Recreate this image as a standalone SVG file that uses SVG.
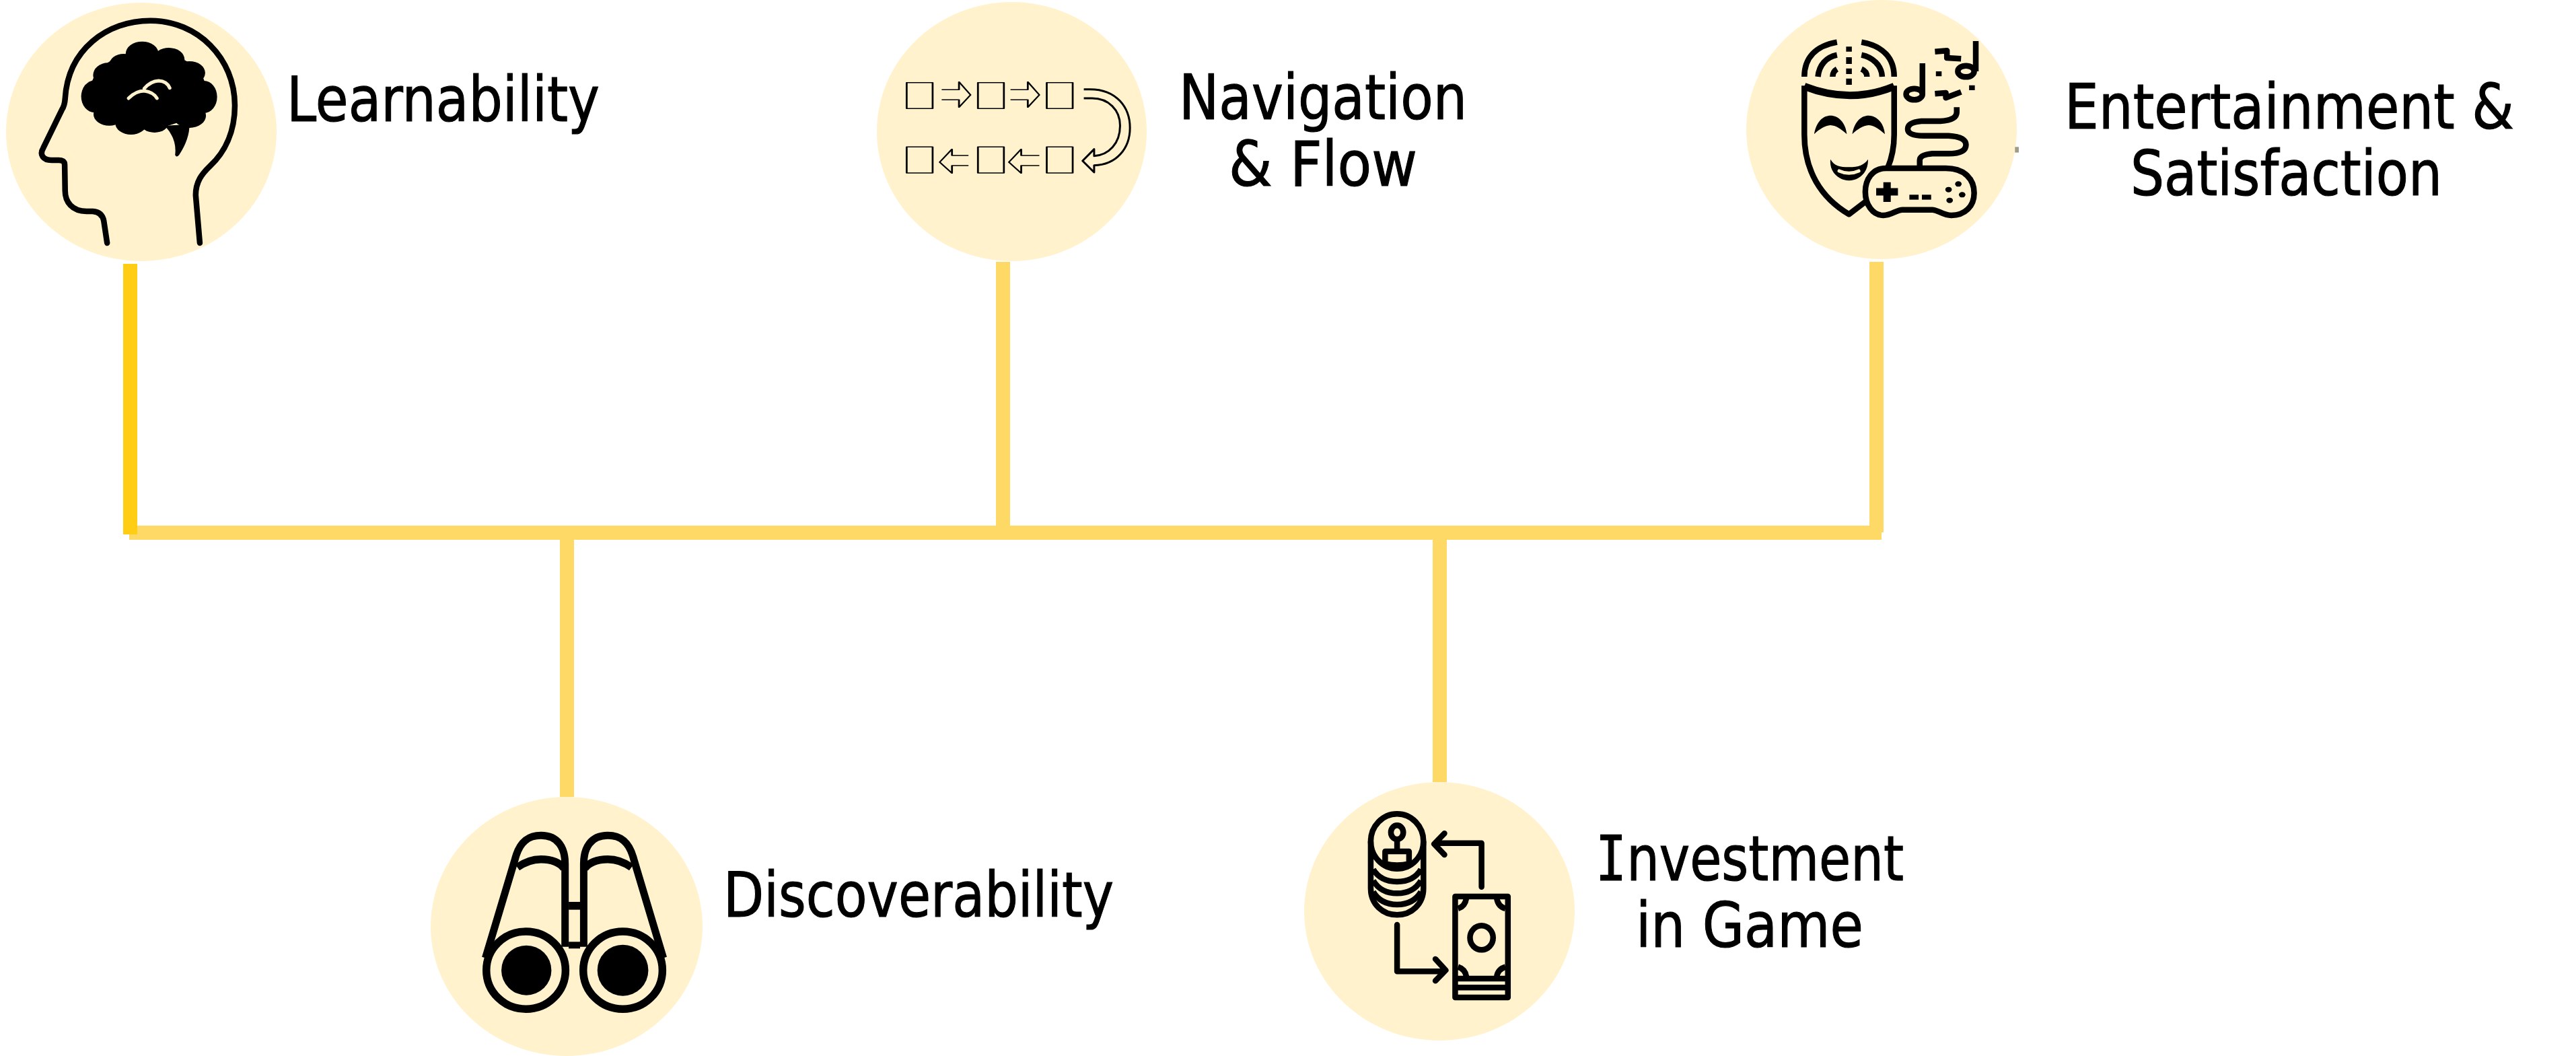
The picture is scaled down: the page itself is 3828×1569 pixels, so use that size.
<svg xmlns="http://www.w3.org/2000/svg" width="3828" height="1569" viewBox="0 0 3828 1569">
<style>
.bg{fill:#FFF2CC}
.lbl{font-family:"DejaVu Sans",Verdana,sans-serif;font-size:92px;fill:#000;stroke:#000;stroke-width:1.2}
.serif-i{font-family:"DejaVu Sans Mono",monospace}
.ln{fill:none;stroke:#000;stroke-width:8.5;stroke-linejoin:round;vector-effect:non-scaling-stroke}
.rd{stroke-linecap:round}
.thin{stroke-width:4.5}
.hair{stroke-width:3}
.w9{stroke-width:11}
.w11{stroke-width:11.5}
.ck{fill:#000}
.cr{fill:none;stroke:#FFF2CC;stroke-width:5;stroke-linecap:round;vector-effect:non-scaling-stroke}
.bar{fill:#FFD966}
</style>
<g id="connectors">
<rect class="bar" x="192" y="781" width="2604" height="21"/>
<rect class="bar" x="1480" y="389" width="21" height="392"/>
<rect class="bar" x="2778" y="389" width="21" height="402"/>
<rect class="bar" x="832" y="802" width="21" height="382"/>
<rect class="bar" x="2129" y="802" width="21" height="360"/>
<rect x="183" y="392" width="21" height="402" fill="#FFCE14"/>
</g>
<g id="learnability">
<ellipse class="bg" cx="210" cy="196" rx="201" ry="192"/>
<g transform="scale(.6122 .3333)">
<path class="ln rd" d="M260,1083 L252,985 Q248,945 225,942 L210,942 C175,942 158,900 158,850 L157,735 Q157,712 140,714 L125,714 C105,714 95,690 105,660 L150,490 Q157,470 158,440 C165,220 260,92 365,92 C480,92 570,260 570,470 C570,590 545,680 510,740 C490,775 475,810 475,870 L485,1083"/>
<g class="ck">
<ellipse cx="360" cy="400" rx="140" ry="170"/>
<ellipse cx="345" cy="240" rx="40" ry="55"/><ellipse cx="410" cy="265" rx="38" ry="52"/>
<ellipse cx="300" cy="290" rx="35" ry="50"/><ellipse cx="460" cy="325" rx="38" ry="52"/>
<ellipse cx="262" cy="335" rx="36" ry="55"/><ellipse cx="230" cy="430" rx="33" ry="72"/>
<ellipse cx="495" cy="432" rx="32" ry="72"/><ellipse cx="265" cy="510" rx="38" ry="50"/>
<ellipse cx="318" cy="550" rx="38" ry="50"/><ellipse cx="375" cy="545" rx="35" ry="46"/>
<ellipse cx="460" cy="515" rx="40" ry="55"/>
<path d="M400,560 Q430,620 425,690 Q428,705 435,690 Q460,620 460,555 Z"/>
</g>
<path class="cr" d="M312,438 Q330,405 350,405 Q372,410 381,438 M350,395 Q365,362 385,360 Q405,362 412,392"/>
</g>
<text class="lbl" x="426" y="180" textLength="465" lengthAdjust="spacingAndGlyphs">Learnability</text>
</g>
<g id="navigation">
<ellipse class="bg" cx="1503.5" cy="195.5" rx="200.5" ry="192.5"/>
<g transform="translate(1280 0) scale(.6122 .3333)">
<g class="ln thin">
<rect x="110" y="368" width="63" height="116"/><rect x="283" y="368" width="63" height="116"/><rect x="450" y="368" width="63" height="116"/>
<rect x="110" y="655" width="63" height="116"/><rect x="283" y="655" width="63" height="116"/><rect x="450" y="655" width="63" height="116"/>
<path d="M195,400 H237 V365 L265,423 L237,478 V445 H195"/>
<path d="M362,400 H404 V365 L432,423 L404,478 V445 H362"/>
<path d="M260,693 H220 V665 L190,723 L220,772 V738 H260"/>
<path d="M432,693 H388 V665 L358,723 L388,772 V738 H432"/>
</g>
<path class="ln hair" d="M540,398 H555 C620,398 652,480 652,570 C652,660 620,735 565,737 V768 L537,717 L565,665 V695 C600,692 628,640 628,560 C628,490 600,438 560,438 H540"/>
</g>
<text class="lbl" x="1752" y="177" textLength="428" lengthAdjust="spacingAndGlyphs">Navigation</text>
<text class="lbl" x="1826" y="276" textLength="280" lengthAdjust="spacingAndGlyphs">&amp; Flow</text>
</g>
<g id="entertainment">
<ellipse class="bg" cx="2796" cy="192.5" rx="201" ry="192.5"/>
<g transform="translate(2560 0) scale(.8087 .3333)">
<rect x="537" y="655" width="7" height="25" fill="#A09A86"/>
<path class="ln" d="M150,382 L150,600 C150,760 180,880 232,955 L262,900 M315,382 L315,600 Q315,680 303,750"/>
<path class="ln w9" d="M150,385 Q235,465 315,385"/>
<path class="ln" d="M150,342 C150,260 170,205 210,188 M255,188 C295,205 315,260 315,342 M175,342 C177,290 190,255 210,245 M255,245 C275,255 292,290 293,342 M202,342 C202,325 205,315 210,308 M255,308 C262,315 265,325 265,342"/>
<path class="ln" d="M232,208 V230 M232,255 V285 M232,305 V330 M232,350 V378"/>
<g class="ck">
<path d="M168,598 C172,540 185,515 198,515 C212,515 226,545 228,598 C215,570 208,560 198,558 C188,560 178,575 168,598Z"/>
<path d="M238,598 C242,540 255,515 268,515 C282,515 296,545 298,598 C285,570 278,560 268,558 C258,560 248,575 238,598Z"/>
<path d="M198,710 C205,740 215,745 232,745 C250,745 260,735 267,710 C268,770 250,805 232,805 C215,805 195,770 198,710Z"/>
</g>
<path class="cr" d="M214,762 Q232,782 250,762"/>
<ellipse class="ln" cx="352" cy="420" rx="15" ry="25"/>
<ellipse class="ln" cx="447" cy="318" rx="15" ry="25"/>
<path class="ln" d="M367,282 V420 M465,183 V318 M397,318 V340 M458,380 V402"/>
<path class="ln" d="M390,230 L412,226 L412,258 L438,262 M390,418 L410,414 L410,436 L438,410"/>
<path class="ln" d="M430,478 V500 Q430,535 400,540 H365 Q340,545 340,575 Q340,605 370,605 H415 Q447,610 447,645 Q447,685 415,685 H385 Q362,690 362,715 V750"/>
<path class="ln" d="M300,750 H410 C445,750 462,800 462,860 C462,920 445,960 420,960 C405,960 395,935 385,935 H330 C320,935 310,960 295,960 C275,960 262,910 262,855 C262,800 275,750 300,750Z"/>
<path class="ln w9" d="M282,855 H322 M302,812 V900"/>
<g class="ck">
<rect x="343" y="868" width="17" height="22"/><rect x="366" y="868" width="17" height="22"/>
<ellipse cx="433" cy="820" rx="6" ry="12"/><ellipse cx="415" cy="845" rx="6" ry="12"/><ellipse cx="440" cy="868" rx="6" ry="12"/><ellipse cx="417" cy="893" rx="6" ry="12"/>
</g>
</g>
<text class="lbl" x="3068" y="191" textLength="668" lengthAdjust="spacingAndGlyphs">Entertainment &amp;</text>
<text class="lbl" x="3166" y="290" textLength="463" lengthAdjust="spacingAndGlyphs">Satisfaction</text>
</g>
<g id="discoverability">
<ellipse class="bg" cx="842" cy="1376.5" rx="202" ry="192.5"/>
<g transform="translate(620 1170) scale(.676 .3333)">
<path class="ln w9" d="M150,760 L215,320 C225,240 245,214 272,214 C310,214 325,270 325,340 V710"/>
<path class="ln w9" d="M541,760 L476,320 C466,240 446,214 419,214 C381,214 366,270 366,340 V710"/>
<path class="ln w11" d="M220,356 C238,330 255,320 272,320 C295,320 315,335 323,362 M471,356 C453,330 436,320 419,320 C396,320 376,335 368,362"/>
<g class="ck"><rect x="333" y="510" width="25" height="35"/><rect x="333" y="688" width="25" height="30"/>
<ellipse cx="240" cy="815" rx="55" ry="111"/><ellipse cx="452" cy="815" rx="56" ry="114"/></g>
<ellipse class="ln w11" cx="239" cy="815" rx="87" ry="173"/>
<ellipse class="ln w11" cx="452" cy="815" rx="87" ry="173"/>
</g>
<text class="lbl" x="1075" y="1362" textLength="580" lengthAdjust="spacingAndGlyphs">Discoverability</text>
</g>
<g id="investment">
<ellipse class="bg" cx="2139" cy="1354" rx="201" ry="192"/>
<g transform="translate(1920 1150) scale(.6122 .3333)">
<ellipse class="ln" cx="255" cy="300" rx="64" ry="122"/>
<path class="ln" d="M191,300 V510 C191,580 220,628 255,628 C290,628 319,580 319,510 V300"/>
<path class="ln" d="M197,425 C210,465 230,480 255,480 C280,480 300,465 313,425 M197,475 C210,515 230,532 255,532 C280,532 300,515 313,475 M197,525 C210,565 230,582 255,582 C280,582 300,565 313,525"/>
<ellipse class="ln" cx="255" cy="260" rx="15" ry="31"/>
<path class="ln" d="M255,291 V345 M226,345 H284 V400 Q255,413 226,400 Z"/>
<path class="ln rd" d="M460,503 V308 H350 M370,265 L345,312 L370,360"/>
<path class="ln rd" d="M255,672 V880 H365 M348,825 L373,875 L348,922"/>
<rect class="ln" x="396" y="546" width="128" height="450"/>
<path class="ln" d="M403,600 Q420,590 423,555 M518,600 Q500,590 497,555 M403,860 Q420,870 423,902 M518,860 Q500,870 497,902 M400,912 H520 M400,952 H520"/>
<ellipse class="ln" cx="460" cy="730" rx="28" ry="54"/>
</g>
<text class="lbl" transform="translate(2371 1308) scale(.8337 1)"><tspan class="serif-i">I</tspan>nvestment</text>
<text class="lbl" x="2431" y="1407" textLength="338" lengthAdjust="spacingAndGlyphs">in Game</text>
</g>
</svg>
